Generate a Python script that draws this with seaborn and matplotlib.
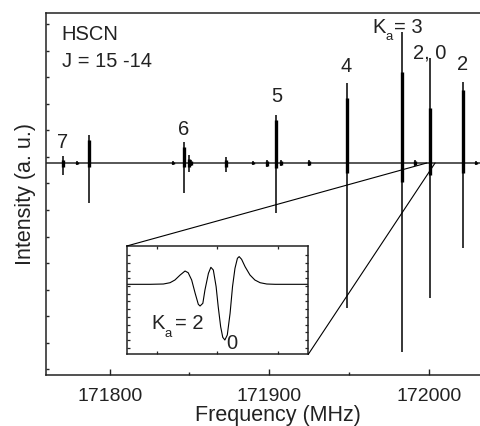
import numpy as np
import pandas as pd
import matplotlib
matplotlib.use("Agg")
import matplotlib.pyplot as plt
import seaborn as sns
from matplotlib.patches import ConnectionPatch
from matplotlib.ticker import MultipleLocator

# Stick spectrum (MHz, intensity above/below baseline)
line_freq = [171770.7, 171779.3, 171787.0, 171839.5, 171846.4, 171849.5, 171851.2,
             171873.2, 171889.8, 171898.6, 171904.5, 171907.6, 171925.0, 171949.0,
             171983.5, 171991.2, 172000.8, 172021.5, 172029.9]
line_up = [7.3, 2, 28, 2.3, 21.3, 8, 3, 5.7, 2, 3, 48, 3, 3, 79.7, 131.3, 3, 104.7, 81.3, 2]
line_down = [-12, -2, -40.3, -2, -29.7, -8.7, -3, -8.7, -2, -3.7, -50.3, -3, -3,
             -145.3, -188.7, -3, -135.3, -85.3, -2]
core_up = [3, 1, 23, 1, 16, 4, 2, 3, 1, 2, 43, 2, 2, 65, 91, 2, 55, 73, 1]
core_down = [-4, -1, -4, -1, -4, -4, -2, -4, -1, -3, -5, -2, -2, -10, -19, -2, -12, -10, -1]

# K_a labels
label_text = ["7", "6", "5", "4", "2, 0", "2"]
label_x = [171770.5, 171846.4, 171904.5, 171948.4, 172000.6, 172021.5]
label_y = [20, 33, 66.3, 96.3, 109.7, 98]

# Inset: K_a = 2 / 0 doublet lineshape
inset_freq = [171998.80, 171999.47, 171999.85, 172000.04, 172000.18, 172000.33, 172000.47,
              172000.56, 172000.66, 172000.76, 172000.85, 172000.90, 172000.98, 172001.04,
              172001.14, 172001.21, 172001.28, 172001.36, 172001.42, 172001.49, 172001.55,
              172001.61, 172001.68, 172001.76, 172001.83, 172001.90, 172001.97, 172002.02,
              172002.09, 172002.19, 172002.33, 172002.47, 172002.62, 172002.81, 172003.05,
              172004.00]
inset_int = [0, 0, 0.3, 1.6, 4.3, 9.3, 13.3, 11.6, 4.3, -9, -20, -21.7, -19, -5.7, 11, 17,
             14.3, -2.3, -22.4, -42.4, -53, -55.7, -50.7, -29, -2.3, 16, 26, 27.7, 25, 17.6,
             9.3, 4.3, 1.6, 0.3, 0, 0]

sns.set_theme(style="ticks")
plt.rcParams['font.family'] = ['Liberation Sans', 'DejaVu Sans']

TXT = '#222'


def ka_label(a, x, y, value, eq_off):
    # "K" with a low subscript "a", then "= value"
    a.text(x, y, 'K', fontsize=14.5, ha='left', va='baseline', color=TXT)
    a.annotate('a', (x, y), xytext=(9.4, -5.2), textcoords='offset points',
               fontsize=9.5, ha='left', va='baseline', color=TXT)
    a.annotate('= ' + value, (x, y), xytext=(eq_off, 0), textcoords='offset points',
               fontsize=14.5, ha='left', va='baseline', color=TXT)


fig = plt.figure(figsize=(4.8, 4.26), dpi=100)
ax = fig.add_axes([0.0958, 0.1197, 0.9667, 0.8498])

ax.axhline(0, color='#3a3a3a', lw=1.2, zorder=1)
ax.vlines(line_freq, line_down, line_up, color='black', lw=1.1, zorder=2)
ax.vlines(line_freq, core_down, core_up, color='black', lw=2.4, zorder=2)

ax.set_xlim(171760, 172051)
ax.set_ylim(-212, 150)
ax.set_xticks([171800, 171900, 172000])
ax.xaxis.set_minor_locator(MultipleLocator(50))
ax.set_yticks(np.arange(-206, 150, 26.5))
ax.set_yticklabels([])
ax.tick_params(axis='x', which='major', direction='in', length=4, width=1, labelsize=14,
               pad=9.5, colors=TXT)
ax.tick_params(axis='x', which='minor', direction='in', length=2.2, width=1)
ax.tick_params(axis='y', direction='in', length=1.8, width=1)
for s in ax.spines.values():
    s.set_linewidth(1.1)
    s.set_color(TXT)
ax.set_xlabel('Frequency (MHz)', fontsize=15.5, labelpad=0, color=TXT)
ax.set_ylabel('Intensity (a. u.)', fontsize=15.5, labelpad=4, color=TXT)

ax.text(171769.9, 128, 'HSCN', fontsize=14.5, ha='left', va='center', color=TXT)
ax.text(171769.9, 101, 'J = 15 -14', fontsize=14.5, ha='left', va='center', color=TXT)
for t, x, y in zip(label_text, label_x, label_y):
    ax.text(x, y, t, fontsize=14.5, ha='center', va='center', color=TXT)
ka_label(ax, 171964.9, 130, '3', 15.3)

# Inset
axin = fig.add_axes([0.264, 0.1683, 0.3783, 0.2542])
df_in = pd.DataFrame({'freq': inset_freq, 'intensity': inset_int})
sns.lineplot(data=df_in, x='freq', y='intensity', ax=axin, color='black', lw=0.8, sort=False)
axin.set_xlim(171998.8, 172004.0)
axin.set_ylim(-70, 38.3)
axin.set_xticks([171999.66, 172001.38, 172003.14])
axin.set_xticklabels([])
axin.set_yticks(np.arange(-63.4, 36, 7.72))
axin.set_yticklabels([])
axin.set_xlabel('')
axin.set_ylabel('')
axin.tick_params(direction='in', length=2.2, width=0.9, top=True, right=True)
for s in axin.spines.values():
    s.set_linewidth(1.1)
    s.set_color(TXT)
ka_label(axin, 171999.52, -45, '2', 17.0)
axin.text(172001.81, -59, '0', fontsize=14.5, ha='center', va='center', color=TXT)

for xyA, xB in [((0, 1), 171998.8), ((1, 0), 172004.0)]:
    con = ConnectionPatch(xyA=xyA, coordsA=axin.transAxes, xyB=(xB, 0), coordsB=ax.transData,
                          color='black', lw=0.8)
    fig.add_artist(con)

fig.savefig('out.png', dpi=100)
